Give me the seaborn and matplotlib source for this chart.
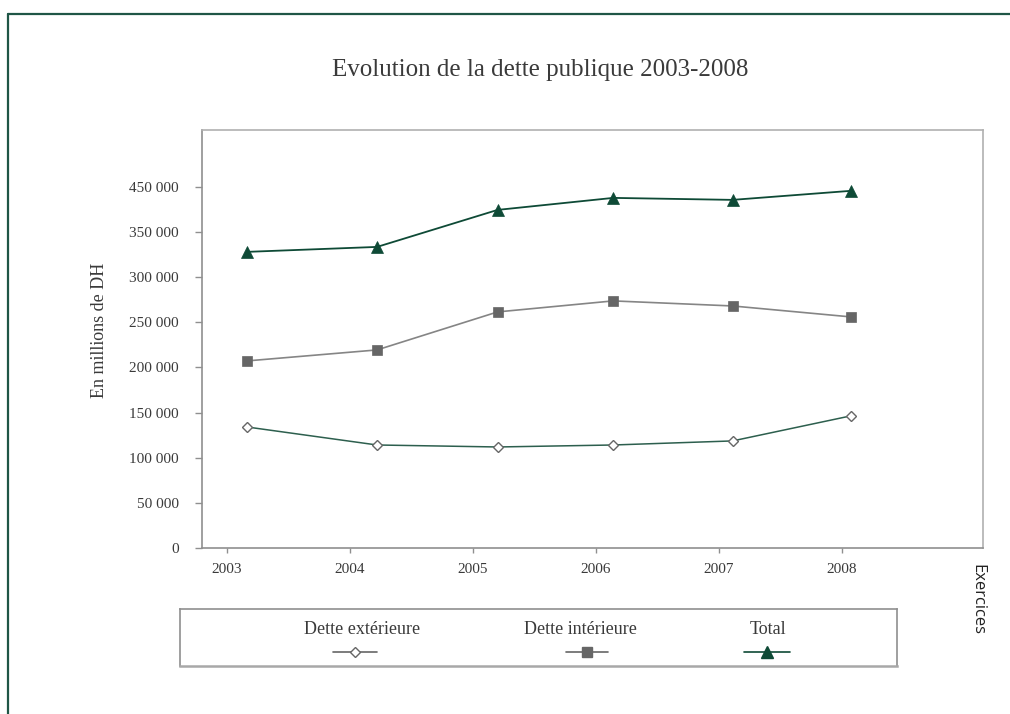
import matplotlib
matplotlib.use("Agg")
import matplotlib.pyplot as plt
from matplotlib.lines import Line2D
import seaborn as sns

# Observation dates along the time axis (fraction of the fiscal year)
periodes = [2003.16, 2004.22, 2005.20, 2006.14, 2007.11, 2008.07]

# Public debt, in millions of DH
dette_exterieure = [134100, 114100, 111900, 114100, 118600, 146300]
dette_interieure = [207200, 219400, 261500, 273700, 268100, 256000]
total = [328000, 333500, 374500, 387800, 385600, 395600]

annees = [2003, 2004, 2005, 2006, 2007, 2008]
y_ticks = [0, 50000, 100000, 150000, 200000, 250000, 300000, 350000, 400000]
y_tick_labels = ["0", "50 000", "100 000", "150 000", "200 000",
                 "250 000", "300 000", "350 000", "450 000"]
noms_series = ["Dette extérieure", "Dette intérieure", "Total"]

titre = "Evolution de la dette publique 2003-2008"
label_y = "En millions de DH"
label_x = "Exercices"

VERT = "#0e4a36"
VERT_LIGNE = "#2d5f4e"
GRIS = "#666666"
GRIS_LIGNE = "#858585"
CADRE = "#8f8f8f"
TEXTE = "#3a3a3a"

sns.set_theme(style="white")
plt.rcParams["font.family"] = ["Liberation Serif", "DejaVu Serif"]

W, H = 1010, 714
fig = plt.figure(figsize=(W / 100, H / 100), dpi=100)
fig.patch.set_facecolor("white")


def fx(px):
    return px / W


def fy(py):
    return 1 - py / H


ax = fig.add_axes([fx(202), fy(548), fx(983) - fx(202), fy(130) - fy(548)])

sns.lineplot(x=periodes, y=dette_exterieure, ax=ax, color=VERT_LIGNE, lw=1.1,
             marker="D", markersize=5.5, markerfacecolor="white",
             markeredgecolor=GRIS, markeredgewidth=1.0, zorder=3)
sns.lineplot(x=periodes, y=dette_interieure, ax=ax, color=GRIS_LIGNE, lw=1.2,
             marker="s", markersize=7, markerfacecolor=GRIS,
             markeredgecolor=GRIS, markeredgewidth=0.5, zorder=3)
sns.lineplot(x=periodes, y=total, ax=ax, color=VERT, lw=1.3,
             marker="^", markersize=8, markerfacecolor=VERT,
             markeredgecolor=VERT, markeredgewidth=0.5, zorder=3)

ax.set_xlim(2002.797, 2009.146)
ax.set_ylim(0, 463000)
ax.set_xticks(annees)
ax.set_xticklabels([str(a) for a in annees])
ax.set_yticks(y_ticks)
ax.set_yticklabels(y_tick_labels)
ax.grid(False)

for name, sp in ax.spines.items():
    sp.set_visible(True)
    sp.set_linewidth(1.2)
    sp.set_color(CADRE if name in ("left", "bottom") else "#b0b0b0")

ax.tick_params(axis="y", left=True, length=5, width=1.0, color=CADRE,
               pad=11.5, labelsize=11, labelcolor=TEXTE, direction="out")
ax.tick_params(axis="x", bottom=True, length=3.5, width=1.0, color=CADRE,
               pad=7, labelsize=11, labelcolor=TEXTE, direction="out")

ax.set_ylabel(label_y, fontsize=13, color=TEXTE)
ax.yaxis.set_label_coords(-0.12, 0.52)
ax.set_xlabel("")

# Title
fig.text(fx(540), fy(70), titre, ha="center", va="center",
         fontsize=18, color=TEXTE)

# Axis caption on the right, read top to bottom
fig.text(fx(977), fy(599), label_x, ha="center", va="center", rotation=-90,
         fontsize=12, color="#222222", family=["Open Sans", "DejaVu Sans"])

# Outer green frame (top and left edges)
fig.add_artist(Line2D([fx(8), 1.0], [fy(14), fy(14)], transform=fig.transFigure,
                      color="#1f5646", lw=1.6))
fig.add_artist(Line2D([fx(8), fx(8)], [0.0, fy(14)], transform=fig.transFigure,
                      color="#1f5646", lw=1.6))

# Legend box: labels above their line samples
leg = fig.add_axes([fx(180), fy(666), fx(897) - fx(180), fy(609) - fy(666)])
leg.set_xlim(180, 897)
leg.set_ylim(666, 609)
leg.set_xticks([])
leg.set_yticks([])
leg.set_facecolor("white")
for name, sp in leg.spines.items():
    sp.set_visible(True)
    sp.set_color(CADRE if name != "bottom" else "#a8a8a8")
    sp.set_linewidth(1.2 if name != "bottom" else 1.8)

cles = [
    dict(cx=362, hx=355, half=22, color=GRIS, marker="D", ms=5.5,
         mfc="white", mec=GRIS),
    dict(cx=580, hx=587, half=21, color=GRIS, marker="s", ms=7,
         mfc=GRIS, mec=GRIS),
    dict(cx=768, hx=767, half=23, color=VERT, marker="^", ms=8,
         mfc=VERT, mec=VERT),
]
for nom, k in zip(noms_series, cles):
    leg.text(k["cx"], 630, nom, ha="center", va="center", fontsize=13,
             color=TEXTE)
    leg.plot([k["hx"] - k["half"], k["hx"] + k["half"]], [652, 652],
             color=k["color"], lw=1.2)
    leg.plot([k["hx"]], [652], marker=k["marker"], markersize=k["ms"],
             markerfacecolor=k["mfc"], markeredgecolor=k["mec"],
             markeredgewidth=1.0, linestyle="none")

fig.savefig("out.png", dpi=100, facecolor="white")
